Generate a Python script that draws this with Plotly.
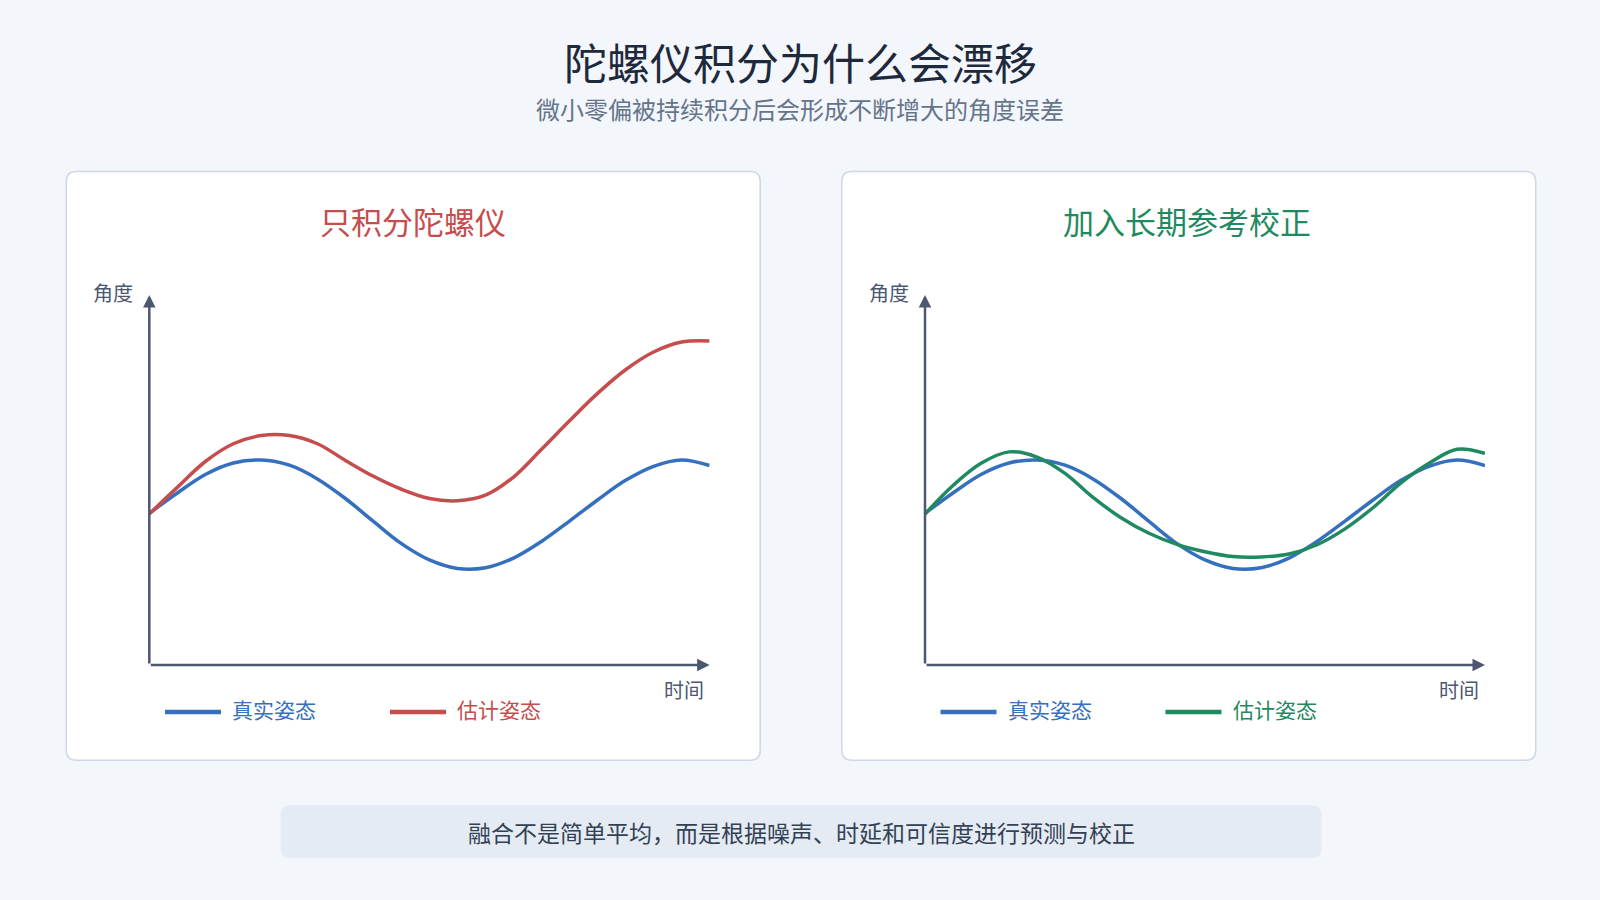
import plotly.graph_objects as go

W, H = 1600, 900
FONT = "Noto Sans CJK SC"

# time axis samples and read-off angle values
t = [0, 0.5, 1, 1.5, 2, 2.5, 3, 3.5, 4, 4.5, 5, 5.5, 6, 6.5, 7, 7.5, 8, 8.5, 9, 9.5, 10]
true_att = [41.0, 46.5, 51.5, 54.6, 55.4, 54.0, 50.3, 45.0, 38.8, 32.8, 28.4, 26.1, 26.3, 28.9,
            33.4, 38.9, 44.6, 49.9, 53.7, 55.4, 53.9]
gyro_only = [40.8, 48.0, 55.0, 59.8, 62.0, 62.0, 59.8, 55.3, 51.0, 47.5, 45.0, 44.4, 45.9, 50.8,
             58.3, 66.0, 73.4, 79.8, 84.6, 87.3, 87.6]
fused = [40.8, 48.5, 54.5, 57.6, 56.2, 51.8, 45.3, 39.8, 35.6, 32.6, 30.6, 29.3, 29.2, 30.0,
         32.5, 36.8, 42.5, 49.2, 54.5, 58.3, 57.2]

title = "陀螺仪积分为什么会漂移"
subtitle = "微小零偏被持续积分后会形成不断增大的角度误差"
panel_titles = ["只积分陀螺仪", "加入长期参考校正"]
legend_names = ["真实姿态", "估计姿态"]
footer = "融合不是简单平均，而是根据噪声、时延和可信度进行预测与校正"

BLUE = "#3570bf"
RED = "#c54d4d"
GREEN = "#1f8a5f"
AXIS = "#4b5870"


def px(x):
    return x / W


def py(y):
    return 1 - y / H


def rounded(x0, y0, x1, y1, r):
    pts = [
        f"M{px(x0 + r)},{py(y0)}", f"L{px(x1 - r)},{py(y0)}",
        f"Q{px(x1)},{py(y0)} {px(x1)},{py(y0 + r)}", f"L{px(x1)},{py(y1 - r)}",
        f"Q{px(x1)},{py(y1)} {px(x1 - r)},{py(y1)}", f"L{px(x0 + r)},{py(y1)}",
        f"Q{px(x0)},{py(y1)} {px(x0)},{py(y1 - r)}", f"L{px(x0)},{py(y0 + r)}",
        f"Q{px(x0)},{py(y0)} {px(x0 + r)},{py(y0)}", "Z",
    ]
    return " ".join(pts)


fig = go.Figure()
fig.add_trace(go.Scatter(x=t, y=true_att, mode="lines", line=dict(color=BLUE, width=3.5, shape="spline"),
                         xaxis="x", yaxis="y", showlegend=False, hoverinfo="skip"))
fig.add_trace(go.Scatter(x=t, y=gyro_only, mode="lines", line=dict(color=RED, width=3.5, shape="spline"),
                         xaxis="x", yaxis="y", showlegend=False, hoverinfo="skip"))
fig.add_trace(go.Scatter(x=t, y=true_att, mode="lines", line=dict(color=BLUE, width=3.5, shape="spline"),
                         xaxis="x2", yaxis="y2", showlegend=False, hoverinfo="skip"))
fig.add_trace(go.Scatter(x=t, y=fused, mode="lines", line=dict(color=GREEN, width=3.5, shape="spline"),
                         xaxis="x2", yaxis="y2", showlegend=False, hoverinfo="skip"))

hidden = dict(showgrid=False, zeroline=False, showticklabels=False, showline=False, fixedrange=True)
fig.update_layout(
    width=W, height=H,
    margin=dict(l=0, r=0, t=0, b=0),
    paper_bgcolor="#f3f6fa", plot_bgcolor="rgba(0,0,0,0)",
    font=dict(family=FONT, color="#334155"),
    xaxis=dict(domain=[149.3 / W, 709.6 / W], range=[0, 10], **hidden),
    yaxis=dict(domain=[1 - 665 / H, 1 - 295 / H], range=[0, 100], **hidden),
    xaxis2=dict(domain=[925 / W, 1485 / W], range=[0, 10], anchor="y2", **hidden),
    yaxis2=dict(domain=[1 - 665 / H, 1 - 295 / H], range=[0, 100], anchor="x2", **hidden),
)

shapes = []
for x0, x1 in [(66.3, 760.2), (841.8, 1535.7)]:
    shapes.append(dict(type="path", xref="paper", yref="paper", path=rounded(x0, 171.4, x1, 760.2, 10),
                       fillcolor="#ffffff", line=dict(color="#cfd8e4", width=1.5), layer="below"))
shapes.append(dict(type="path", xref="paper", yref="paper", path=rounded(280.6, 805.1, 1321.4, 858.2, 10),
                   fillcolor="#e4ebf3", line=dict(width=0), layer="below"))

# legend samples
est_colors = [RED, GREEN]
for i, off in enumerate([0, 775.5]):
    for j, (lx, c) in enumerate([(165, BLUE), (390, est_colors[i])]):
        shapes.append(dict(type="line", xref="paper", yref="paper",
                           x0=px(lx + off), x1=px(lx + 56 + off), y0=py(712), y1=py(712),
                           line=dict(color=c, width=4.5)))
fig.update_layout(shapes=shapes)

ann = [
    dict(text=title, x=0.5, y=py(61), font=dict(size=43, color="#1e293b")),
    dict(text=subtitle, x=0.5, y=py(108), font=dict(size=24, color="#64748b")),
    dict(text=panel_titles[0], x=px(413), y=py(221), font=dict(size=31, color=RED)),
    dict(text=panel_titles[1], x=px(1187), y=py(221), font=dict(size=31, color=GREEN)),
    dict(text=footer, x=px(801), y=py(831.5), font=dict(size=23, color="#334155")),
]
for i, off in enumerate([0, 775.5]):
    ann.append(dict(text="角度", x=px(113.3 + off), y=py(292), font=dict(size=20, color=AXIS)))
    ann.append(dict(text="时间", x=px(683.7 + off), y=py(689), font=dict(size=20, color=AXIS)))
    ann.append(dict(text=legend_names[0], x=px(230 + off), y=py(709), xanchor="left",
                    font=dict(size=21, color=BLUE)))
    ann.append(dict(text=legend_names[1], x=px(455 + off), y=py(709), xanchor="left",
                    font=dict(size=21, color=est_colors[i])))
for a in ann:
    a.setdefault("xanchor", "center")
    a.update(xref="paper", yref="paper", yanchor="middle", showarrow=False)

# axis arrows
for xr, yr in [("x", "y"), ("x2", "y2")]:
    for tip in [(10, 0), (0, 100)]:
        ann.append(dict(xref=xr, yref=yr, axref=xr, ayref=yr, x=tip[0], y=tip[1], ax=0, ay=0,
                        text="", showarrow=True, arrowhead=2, arrowsize=1, arrowwidth=2.5,
                        arrowcolor=AXIS, standoff=0))
fig.update_layout(annotations=ann)

fig.write_html("out.html", config={"displayModeBar": False},
               post_script="document.body.style.margin='0';")
